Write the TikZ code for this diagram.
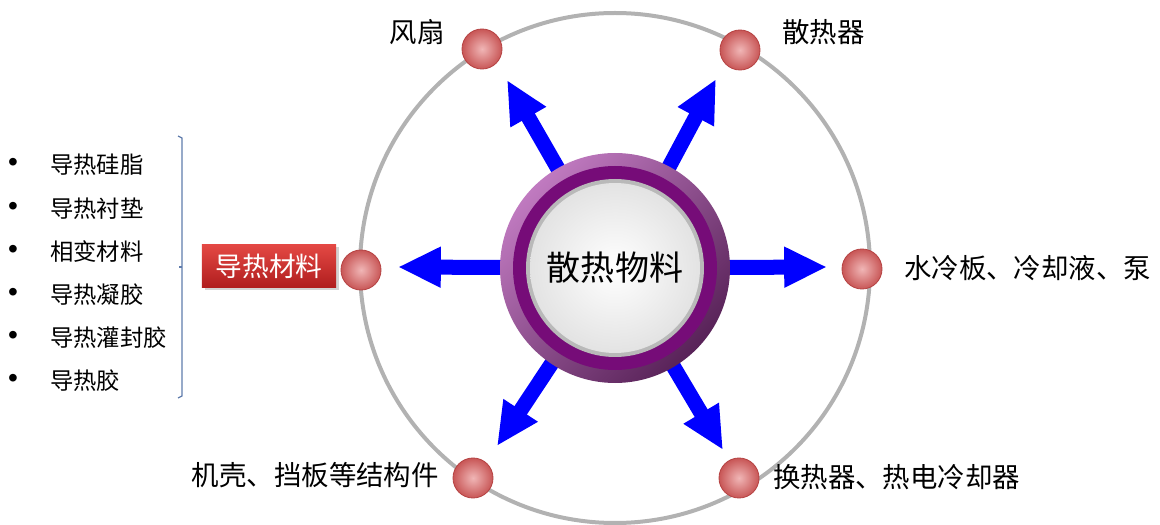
\documentclass[tikz,border=0pt]{standalone}
\usepackage{fontspec}
\setmainfont{Noto Sans CJK SC}
\newfontfamily\latinfont{Liberation Sans}
\usetikzlibrary{arrows.meta,shadows,positioning}
\definecolor{ringgray}{RGB}{178,178,178}
\definecolor{ballin}{RGB}{240,182,182}
\definecolor{ballout}{RGB}{200,86,86}
\definecolor{ballrim}{RGB}{182,68,68}
\definecolor{purplelt}{RGB}{192,122,192}
\definecolor{purpledk}{RGB}{88,34,88}
\definecolor{magentadk}{RGB}{118,12,120}
\definecolor{boxtop}{RGB}{228,72,68}
\definecolor{boxbot}{RGB}{176,30,30}
\definecolor{bracecol}{RGB}{96,124,172}
\begin{document}
\begin{tikzpicture}[x=0.025cm,y=-0.025cm,
    ball/.style={circle,minimum size=1cm,inner sep=0,inner color=ballin,outer color=ballout,draw=ballrim,line width=0.6pt},
    flow/.style={blue,line width=0.375cm,-{Triangle[length=1.07cm,width=0.95cm]}},
    lbl/.style={inner sep=0,font=\fontsize{19.5}{23}\selectfont},
    item/.style={inner sep=0,font=\fontsize{16.6}{20}\selectfont}]
    \useasboundingbox (0,0) rectangle (1160,525);

    % Outer ring
    \coordinate (c) at (615,268);
    \draw[ringgray,line width=0.1cm] (c) circle (255);

    % Arrow tips
    \coordinate (tfan) at (507,80);
    \coordinate (tsink) at (716,79);
    \coordinate (tmat) at (398,267);
    \coordinate (twater) at (827,267);
    \coordinate (tcase) at (497,446);
    \coordinate (texch) at (723,450);

    % Arrows out of the hub
    \foreach \t in {tfan,tsink,tmat,twater,tcase,texch}
      \draw[flow] (c) -- (\t);

    % Hub
    \shade[top color=purplelt,bottom color=purpledk,shading angle=45] (c) circle (115);
    \fill[magentadk] (c) circle (102);
    \fill[gray!55] (c) circle (89);
    \shade[inner color=white,outer color=gray!22] (c) circle (85);
    \node[inner sep=0,font=\fontsize{24.2}{28}\selectfont] (hub) at (c) {散热物料};

    % Balls on the ring
    \node[ball] (fan) at (482,49) {};
    \node[ball] (sink) at (740,50) {};
    \node[ball] (mat) at (361,270) {};
    \node[ball] (water) at (862,269) {};
    \node[ball] (case) at (473,478) {};
    \node[ball] (exch) at (739,478) {};

    % Labels
    \node[lbl,anchor=east] (fanlbl) at (445,32) {风扇};
    \node[lbl,anchor=west] (sinklbl) at (782,32) {散热器};
    \node[lbl,anchor=west] (waterlbl) at (904,268) {水冷板、冷却液、泵};
    \node[lbl,anchor=west] (exchlbl) at (773,477) {换热器、热电冷却器};
    \node[lbl,anchor=east] (caselbl) at (439,475) {机壳、挡板等结构件};

    % Red box
    \node[minimum width=3.35cm,minimum height=1.075cm,inner sep=0,top color=boxtop,bottom color=boxbot,
      drop shadow={shadow xshift=2pt,shadow yshift=-2pt,opacity=0.35},
      text=white,font=\fontsize{19}{23}\selectfont] (matbox) at (269,266) {导热材料};

    % List of materials
    \foreach \y/\txt [count=\i] in {165/导热硅脂,209/导热衬垫,252/相变材料,295/导热凝胶,338/导热灌封胶,381/导热胶}{
      \node[inner sep=0,font=\latinfont\fontsize{20}{20}\selectfont] (dot\i) at (13,\y) {•};
      \node[item,anchor=west] (item\i) at (50,\y) {\txt};
    }

    % Bracket
    \draw[bracecol,line width=0.8pt] (178,136) -- (182,138) -- (182,396) -- (178,398);
    \draw[bracecol,line width=0.8pt] (182,267) -- (179,267);
  \end{tikzpicture}
\end{document}
